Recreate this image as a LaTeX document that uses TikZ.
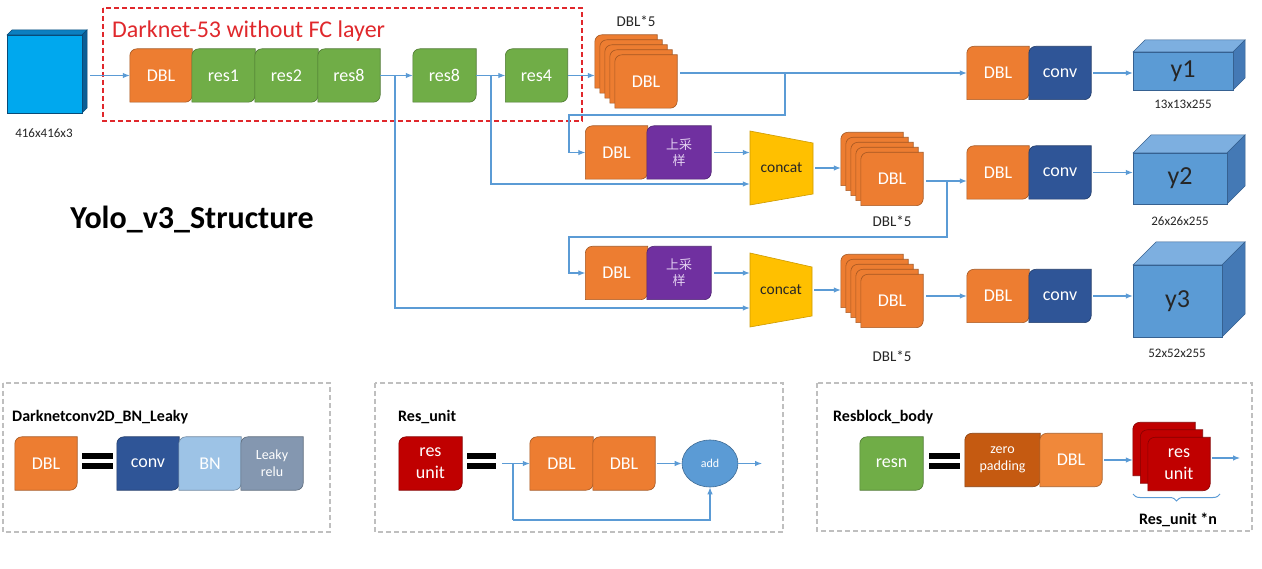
\documentclass[tikz,border=0pt]{standalone}
\usepackage{fontspec}
\setmainfont{Carlito}
\newfontfamily\cjkfont{Noto Sans CJK SC}
\usetikzlibrary{arrows.meta,decorations.pathreplacing,shapes.geometric}
\pgfdeclarelayer{background}
\pgfsetlayers{background,main}
\definecolor{cOr}{HTML}{ED7D31}
\definecolor{cGr}{HTML}{70AD47}
\definecolor{cPu}{HTML}{7030A0}
\definecolor{cBl}{HTML}{2F5597}
\definecolor{cLB}{HTML}{9DC3E6}
\definecolor{cGB}{HTML}{8497B0}
\definecolor{cRed}{HTML}{C00000}
\definecolor{cZp}{HTML}{C55A11}
\definecolor{cLo}{HTML}{F0883A}
\definecolor{cCc}{HTML}{FFC000}
\definecolor{cArr}{HTML}{5B9BD5}
\definecolor{cFy}{HTML}{5B9BD5}
\definecolor{cTy}{HTML}{7DAFE0}
\definecolor{cSy}{HTML}{4479B5}
\definecolor{cFin}{HTML}{00A8EE}
\definecolor{cTin}{HTML}{0B7FC0}
\definecolor{cSin}{HTML}{0A5E96}
\definecolor{cDash}{HTML}{E0282C}
\definecolor{cCjk}{HTML}{E2D0F0}
\newcommand\fsz[2]{\fontsize{#1}{#2}\selectfont}
\tikzset{
  blk/.style={draw=none, inner sep=0pt, minimum height=53pt, minimum width=62pt,
    align=center, text=white, font=\fsz{18}{21}},
  cjkbox/.style={minimum width=64pt, text=cCjk, font=\cjkfont\fsz{13}{16}},
  arr/.style={draw=cArr, line width=1.1pt, -{Latex[length=7pt,width=5.5pt]}},
  ln/.style={draw=cArr, line width=1.1pt},
  lbl/.style={inner sep=0pt, font=\fsz{13}{15}, text=black!85},
  slbl/.style={inner sep=0pt, font=\fsz{15}{17}, text=black!85},
  ttl/.style={inner sep=0pt, anchor=west, font=\fsz{16}{19}\bfseries, text=black},
  gbox/.style={draw=black!25, line width=1.2pt, dash pattern=on 5pt off 3pt},
}
% shape with rounded top-left and bottom-right corners behind node #1
\newcommand\shp[2]{\filldraw[fill=#2, draw=#2!70!black, line width=0.6pt]
  ([yshift=-7pt]#1.north west) arc[start angle=180, end angle=90, radius=7pt]
  -- (#1.north east) -- ([yshift=7pt]#1.south east)
  arc[start angle=0, end angle=-90, radius=7pt] -- (#1.south west) -- cycle;}
\newcommand\blk[6][]{%
  \node[blk, #1] (#2) at ({#3},{#4}) {#6};
  \begin{pgfonlayer}{background}\shp{#2}{#5}\end{pgfonlayer}}
\newcommand\stk[7]{%
  \foreach \k in {1,...,#6}{%
    \pgfmathsetmacro\dd{#7*(#6+1-\k)}%
    \blk{#1\k}{#2-\dd}{#3-\dd}{#4}{}}%
  \blk{#1}{#2}{#3}{#4}{#5}}
\newcommand\cube[8]{%
  \filldraw[fill=cT#7, draw=cS#7!80!black, line width=0.5pt]
    (#2,#3) -- ({#2+#6},{#3-#6}) -- ({#4+#6},{#3-#6}) -- (#4,#3) -- cycle;
  \filldraw[fill=cS#7, draw=cS#7!80!black, line width=0.5pt]
    (#4,#3) -- ({#4+#6},{#3-#6}) -- ({#4+#6},{#5-#6}) -- (#4,#5) -- cycle;
  \filldraw[fill=cF#7, draw=cS#7!80!black, line width=0.5pt] (#2,#3) rectangle (#4,#5);
  \node[inner sep=0pt, minimum width={(#4-#2)*1pt}, minimum height={(#5-#3)*1pt},
    font=\fsz{26}{28}, text=black!85] (#1) at ({(#2+#4)/2},{(#3+#5)/2}) {#8};}
\begin{document}
\begin{tikzpicture}[x=1pt,y=-1pt]
\begin{pgfonlayer}{background}
\useasboundingbox[fill=white] (0,0) rectangle (1262,569);
\end{pgfonlayer}

% ---------- input ----------
\cube{inp}{7}{35}{82}{113}{5}{in}{}
\node[lbl] (linp) at (44,133) {416x416x3};

% ---------- Darknet-53 ----------
\draw[cDash, line width=1.6pt, dash pattern=on 5pt off 3pt] (103,8) rectangle (582,121);
\node[inner sep=0pt, anchor=west, text=cDash, font=\fsz{24}{26}] (dk) at (112,31) {Darknet-53 without FC layer};

\blk{dbl0}{161}{75.5}{cOr}{DBL}
\blk[minimum width=63pt]{rs1}{223.5}{75.5}{cGr}{res1}
\blk[minimum width=63pt]{rs2}{286.5}{75.5}{cGr}{res2}
\blk{r8a}{349}{75.5}{cGr}{res8}
\blk[minimum width=63pt]{r8b}{444.5}{75.5}{cGr}{res8}
\blk{r4}{536.5}{75.5}{cGr}{res4}

\stk{sa}{646}{81.5}{cOr}{DBL}{4}{5}
\node[slbl] (lsa) at (636,21) {DBL*5};

\blk{dbla}{998}{73}{cOr}{DBL}
\blk{cva}{1060}{73}{cBl}{conv}

\blk{u1d}{616.5}{152.5}{cOr}{DBL}
\blk[cjkbox]{u1p}{679}{152.5}{cPu}{上采\\样}

\filldraw[fill=cCc, draw=cCc!80!black, line width=0.6pt] (750,131) -- (813,143) -- (813,194) -- (750,205) -- cycle;
\node[inner sep=0pt, minimum width=63pt, minimum height=74pt, font=\fsz{15.5}{18}, text=black!85] (c1) at (781.5,168) {concat};

\stk{sb}{892}{179}{cOr}{DBL}{4}{5}
\node[slbl] (lsb) at (892,221) {DBL*5};

\blk{dblb}{998}{172.5}{cOr}{DBL}
\blk{cvb}{1060}{172.5}{cBl}{conv}

\blk{u2d}{616.5}{273}{cOr}{DBL}
\blk[cjkbox]{u2p}{679}{273}{cPu}{上采\\样}

\filldraw[fill=cCc, draw=cCc!80!black, line width=0.6pt] (750,253) -- (812,267) -- (812,316) -- (750,327) -- cycle;
\node[inner sep=0pt, minimum width=62pt, minimum height=74pt, font=\fsz{15.5}{18}, text=black!85] (c2) at (781,290) {concat};

\stk{sc}{892}{301}{cOr}{DBL}{4}{5}
\node[slbl] (lsc) at (892,356) {DBL*5};

\blk{dblc}{998}{296}{cOr}{DBL}
\blk{cvc}{1060}{296}{cBl}{conv}

% ---------- outputs ----------
\cube{y1}{1133}{52}{1233}{90}{12}{y}{y1}
\cube{y2}{1133}{153}{1227}{204}{18}{y}{y2}
\cube{y3}{1133}{265}{1222}{337}{23}{y}{y3}
\node[lbl] (l1) at (1183,104) {13x13x255};
\node[lbl] (l2) at (1180,221) {26x26x255};
\node[lbl] (l3) at (1177,353) {52x52x255};

\node[inner sep=0pt, font=\fsz{32}{34}\bfseries, text=black] (title) at (192,220) {Yolo\_v3\_Structure};

% ---------- connectors (top) ----------
\draw[arr, shorten <=8pt] (inp.east |- dbl0.west) -- (dbl0.west);
\draw[arr] (r8a.east) -- (r8b.west);
\draw[arr] (r8b.east) -- (r4.west);
\draw[arr] (r4.east) -- (sa1.west |- r4.east);
\draw[arr, shorten <=3pt] (sa.east |- dbla.west) -- (dbla.west);
\coordinate (j1) at (785,73);
\coordinate (k1) at (569,115);
\draw[arr] (j1) |- (k1) |- (u1d.west);
\draw[arr, shorten <=3pt] (u1p.east) -- (u1p.east -| c1.west);
\coordinate (j2) at (395,75.5);
\draw[arr] (j2) |- ([yshift=-18pt]c2.west);
\coordinate (j3) at (491,75.5);
\draw[arr] (j3) |- ([yshift=-16pt]c1.west);
\draw[arr, shorten <=2pt] (c1.east) -- (sb1.west |- c1.east);
\coordinate (j4) at (947,181);
\draw[ln, shorten <=3pt] (sb.east |- j4) -- (j4);
\draw[arr] (j4) -- (dblb.west |- j4);
\coordinate (k2) at (569,237);
\draw[arr] (j4) |- (k2) |- (u2d.west);
\draw[arr, shorten <=3pt] (u2p.east) -- (u2p.east -| c2.west);
\draw[arr, shorten <=2pt] (c2.east) -- (sc1.west |- c2.east);
\draw[arr, shorten <=3pt] (sc.east |- dblc.west) -- (dblc.west);
\draw[arr, shorten <=2pt] (cva.east) -- (y1.west |- cva.east);
\draw[arr, shorten <=2pt] (cvb.east) -- (y2.west |- cvb.east);
\draw[arr, shorten <=2pt] (cvc.east) -- (y3.west |- cvc.east);

% ---------- legend boxes ----------
\draw[gbox] (3,383) rectangle (330,532);
\draw[gbox] (375,383) rectangle (783,532);
\draw[gbox] (817,383) rectangle (1252,531);

% DBL definition
\node[ttl] (t1) at (12,417) {Darknetconv2D\_BN\_Leaky};
\blk{bd}{46}{463.5}{cOr}{DBL}
\fill[black] (82,453) rectangle (113,459);
\fill[black] (82,463) rectangle (113,469);
\blk{bc}{148}{463.5}{cBl}{conv}
\blk{bb}{210}{463.5}{cLB}{BN}
\blk[font=\fsz{14}{17}]{bl}{272}{463.5}{cGB}{Leaky\\relu}

% Res_unit
\node[ttl] (t2) at (398,417) {Res\_unit};
\blk[minimum width=63pt, font=\fsz{18}{22}]{ru}{430.5}{463.5}{cRed}{res\\unit}
\fill[black] (467,453) rectangle (496,459);
\fill[black] (467,463) rectangle (496,469);
\blk[minimum width=63pt]{rd1}{561.5}{463.5}{cOr}{DBL}
\blk{rd2}{624}{463.5}{cOr}{DBL}
\node[ellipse, fill=cArr, draw=cArr!70!black, line width=0.6pt, minimum width=56pt,
  minimum height=47pt, inner sep=0pt, text=white, font=\fsz{12}{14}] (add) at (710,463.5) {add};
\coordinate (ru0) at (502,463.5);
\coordinate (ru1) at (513,463.5);
\coordinate (ru2) at (513,520);
\coordinate (ruo) at (762,463.5);
\draw[arr] (ru0) -- (rd1.west);
\draw[ln] (ru1) -- (ru2);
\draw[arr] (ru2) -| (add.south);
\draw[arr, shorten <=2pt] (rd2.east) -- (add.west);
\draw[arr] (add.east) -- (ruo);

% Resblock_body
\node[ttl] (t3) at (833,417) {Resblock\_body};
\blk[minimum width=63pt]{rn}{891.5}{463.5}{cGr}{resn}
\fill[black] (929,453) rectangle (960,459);
\fill[black] (929,463) rectangle (960,469);
\blk[minimum width=75pt, font=\fsz{14}{17}]{zp}{1002.5}{460}{cZp}{zero\\padding}
\blk{rbd}{1071}{460}{cLo}{DBL}
\foreach \k/\dd in {1/15,2/7.5}{\blk{rs\k}{1179-\dd}{464-\dd}{cRed}{}}
\blk[font=\fsz{18}{22}]{rs}{1179}{464}{cRed}{res\\unit}
\draw[arr, shorten <=2pt] (rbd.east) -- (rs1.west |- rbd.east);
\coordinate (rso) at (1240,458);
\draw[arr, shorten <=2pt] (rs.east |- rso) -- (rso);
\draw[draw=cArr, line width=1pt, decorate, decoration={brace, amplitude=7pt}] (1220,494) -- (1133,494);
\node[inner sep=0pt, font=\fsz{16}{18}\bfseries, text=black] (lrs) at (1178,520) {Res\_unit *n};
\end{tikzpicture}
\end{document}
